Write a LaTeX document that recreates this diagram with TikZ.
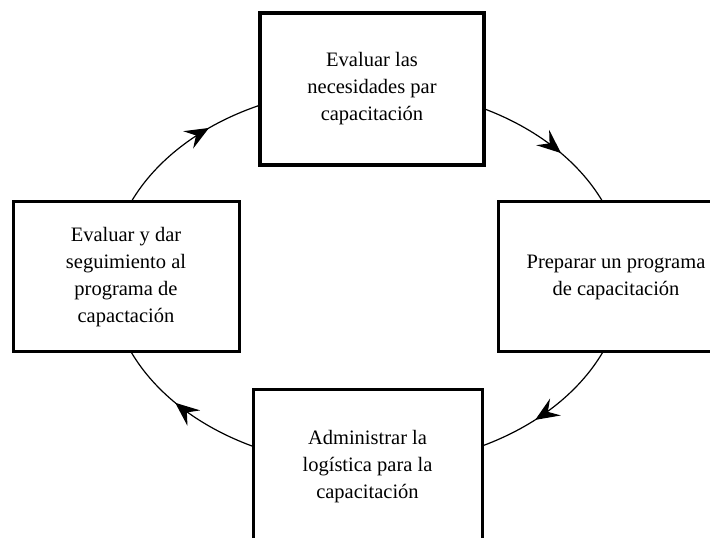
\documentclass[tikz,border=0pt]{standalone}
\usepackage{fontspec}
\setmainfont{Liberation Serif}
\usetikzlibrary{arrows.meta,decorations.markings}
\begin{document}
\begin{tikzpicture}[x=1pt,y=1pt,
  stage/.style={draw=black, line width=3pt, fill=white, align=center,
    inner sep=0pt, font=\fontsize{20.5}{27}\selectfont},
  flow/.style={draw=black, line width=1.2pt, postaction={decorate},
    decoration={markings, mark=at position #1 with
      {\arrow{Stealth[length=24pt,width=20pt,inset=9pt]}}}}]
\clip (0,0) rectangle (710,538);
\fill[white] (0,0) rectangle (710,538);

% the four stages of the cycle
\node[stage, line width=4pt, minimum width=224, minimum height=152] (tbox) at (372,449)
  {Evaluar las\\necesidades par\\capacitación};
\node[stage, minimum width=236, minimum height=150] (rbox) at (616,261)
  {Preparar un programa\\de capacitación};
\node[stage, minimum width=229, minimum height=154] (bbox) at (367.5,71)
  {Administrar la\\logística para la\\capacitación};
\node[stage, minimum width=226, minimum height=150] (lbox) at (126,261)
  {Evaluar y dar\\seguimiento al\\programa de\\capactación};

% the cycle runs clockwise along one ellipse
\coordinate (ctr) at (367,261);
\path (ctr) ++(156.6:257 and 189) coordinate (a1)
      (ctr) ++(62.9:257 and 189)  coordinate (a2)
      (ctr) ++(-23.4:257 and 189) coordinate (a3)
      (ctr) ++(-116.3:257 and 189) coordinate (a4);

\draw[flow=0.66] (a1) arc[start angle=156.6, end angle=114.6, x radius=257, y radius=189];
\draw[flow=0.58] (a2) arc[start angle=62.9, end angle=23.4, x radius=257, y radius=189];
\draw[flow=0.62] (a3) arc[start angle=-23.4, end angle=-63.4, x radius=257, y radius=189];
\draw[flow=0.57] (a4) arc[start angle=-116.3, end angle=-156.6, x radius=257, y radius=189];
\end{tikzpicture}
\end{document}
